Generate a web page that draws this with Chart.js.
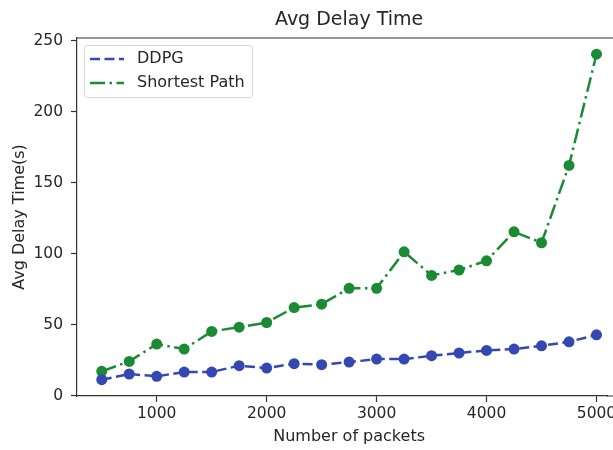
<!DOCTYPE html>
<html>
<head>
<meta charset="utf-8">
<script src="https://cdn.jsdelivr.net/npm/chart.js@4.4.1/dist/chart.umd.min.js"></script>
<style>
  html, body { margin: 0; padding: 0; background: #fff; }
</style>
</head>
<body>
<canvas id="chart-0" width="613" height="450"></canvas>
<script>
const packets = [500, 750, 1000, 1250, 1500, 1750, 2000, 2250, 2500, 2750, 3000, 3250, 3500, 3750, 4000, 4250, 4500, 4750, 5000]
const ddpg = [11.2, 15.2, 13.6, 16.6, 16.6, 21.1, 19.4, 22.5, 21.8, 23.6, 25.7, 25.7, 28.1, 30, 31.8, 32.8, 35.1, 37.9, 42.8]
const shortestPath = [17.1, 24.1, 36.3, 32.8, 45.2, 48.2, 51.5, 62, 64.4, 75.6, 75.6, 101.3, 84.7, 88.5, 95, 115.4, 107.7, 162.2, 240.6]
const xTickValues = [1000, 2000, 3000, 4000, 5000]
const yTickValues = [0, 50, 100, 150, 200, 250]

const chartTitle = 'Avg Delay Time'
const xLabel = 'Number of packets'
const yLabel = 'Avg Delay Time(s)'

const blue = '#3548b2'
const green = '#1a8a34'
const textColor = '#262626'
const fontFamily = "'DejaVu Sans', sans-serif"
// the original axes run past the right edge of the picture (to x = 5225),
// so title and x label are centred on that full width
const axisEnd = 5225

const framePlugin = {
  id: 'frame',
  afterDraw(chart) {
    const { ctx, chartArea } = chart
    const xs = chart.scales.x
    const midX = (chartArea.left + xs.getPixelForValue(axisEnd)) / 2
    ctx.save()
    ctx.strokeStyle = '#333'
    ctx.lineWidth = 1.2
    ctx.beginPath()
    ctx.moveTo(chartArea.left, chartArea.top)
    ctx.lineTo(chart.width, chartArea.top)
    ctx.moveTo(chartArea.right - 1, chartArea.bottom)
    ctx.lineTo(chart.width, chartArea.bottom)
    ctx.stroke()

    ctx.fillStyle = textColor
    ctx.textAlign = 'center'
    ctx.textBaseline = 'middle'
    ctx.font = `19px ${fontFamily}`
    ctx.fillText(chartTitle, midX, 20)
    ctx.font = `16px ${fontFamily}`
    ctx.fillText(xLabel, midX, 437)

    // legend
    const x0 = chartArea.left + 7, y0 = chartArea.top + 7
    ctx.textAlign = 'left'
    ctx.fillStyle = 'rgba(255,255,255,0.85)'
    ctx.strokeStyle = '#d6d6d6'
    ctx.lineWidth = 1
    ctx.beginPath()
    ctx.roundRect(x0 + 0.5, y0 + 0.5, 168, 52, 3)
    ctx.fill()
    ctx.stroke()
    chart.data.datasets.forEach((ds, i) => {
      const y = y0 + 14 + i * 24
      ctx.strokeStyle = ds.borderColor
      ctx.lineWidth = 2.5
      ctx.setLineDash(ds.borderDash)
      ctx.beginPath()
      ctx.moveTo(x0 + 6, y)
      ctx.lineTo(x0 + 40, y)
      ctx.stroke()
      ctx.setLineDash([])
      ctx.fillStyle = textColor
      ctx.fillText(ds.label, x0 + 53, y)
    })
    ctx.restore()
  }
}

const config = {
  type: 'line',
  data: {
    datasets: [
      {
        label: 'DDPG',
        data: packets.map((p, i) => ({ x: p, y: ddpg[i] })),
        borderColor: blue,
        backgroundColor: blue,
        borderWidth: 2.5,
        borderDash: [10, 4.5],
        pointRadius: 5.5,
        pointBorderWidth: 0,
        fill: false
      },
      {
        label: 'Shortest Path',
        data: packets.map((p, i) => ({ x: p, y: shortestPath[i] })),
        borderColor: green,
        backgroundColor: green,
        borderWidth: 2.5,
        borderDash: [15, 4.5, 2.5, 4.5],
        pointRadius: 5.5,
        pointBorderWidth: 0,
        fill: false
      }
    ]
  },
  options: {
    responsive: false,
    animation: false,
    devicePixelRatio: 1,
    layout: { padding: { top: 38, left: 0, right: 0, bottom: 0 } },
    scales: {
      x: {
        type: 'linear',
        min: 275,
        max: 5100,
        afterBuildTicks: scale => { scale.ticks = xTickValues.map(v => ({ value: v })) },
        afterFit: scale => { scale.height = 54; scale.paddingLeft = 0; scale.paddingRight = 0 },
        grid: { drawOnChartArea: false, tickLength: 6, tickColor: '#333', tickWidth: 1.2 },
        border: { display: true, color: '#333', width: 1.2 },
        ticks: { color: textColor, font: { family: fontFamily, size: 15.5 }, padding: 3, maxRotation: 0, callback: v => String(v) },
        title: { display: false }
      },
      y: {
        min: -0.3,
        max: 252,
        afterBuildTicks: scale => { scale.ticks = yTickValues.map(v => ({ value: v })) },
        afterFit: scale => { scale.width = 77 },
        grid: { drawOnChartArea: false, tickLength: 6, tickColor: '#333', tickWidth: 1.2 },
        border: { display: true, color: '#333', width: 1.2 },
        ticks: { color: textColor, font: { family: fontFamily, size: 15.5 }, padding: 8, callback: v => String(v) },
        title: { display: true, text: yLabel, color: textColor, font: { family: fontFamily, size: 16 }, padding: { top: 10.4, bottom: 0 } }
      }
    },
    plugins: {
      legend: { display: false },
      tooltip: { enabled: false },
      title: { display: false }
    }
  },
  plugins: [framePlugin]
}

new Chart(document.getElementById('chart-0'), config)
</script>
</body>
</html>
